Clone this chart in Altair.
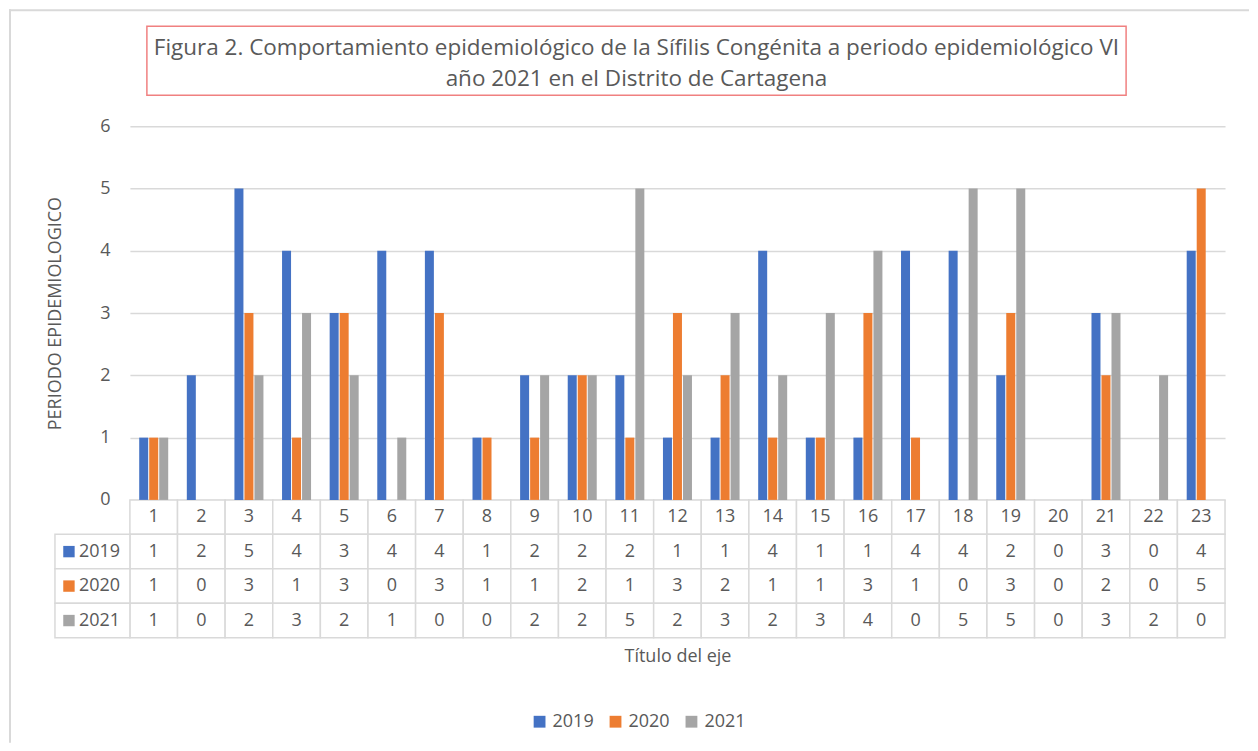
import altair as alt
import pandas as pd

periods = [str(i) for i in range(1, 24)]
years = ["2019", "2020", "2021"]
v2019 = [1, 2, 5, 4, 3, 4, 4, 1, 2, 2, 2, 1, 1, 4, 1, 1, 4, 4, 2, 0, 3, 0, 4]
v2020 = [1, 0, 3, 1, 3, 0, 3, 1, 1, 2, 1, 3, 2, 1, 1, 3, 1, 0, 3, 0, 2, 0, 5]
v2021 = [1, 0, 2, 3, 2, 1, 0, 0, 2, 2, 5, 2, 3, 2, 3, 4, 0, 5, 5, 0, 3, 2, 0]
colors = ["#4472c4", "#ed7d31", "#a5a5a5"]
title_text = ("Figura 2. Comportamiento epidemiológico de la Sífilis Congénita a periodo epidemiológico VI\n"
              "año 2021 en el Distrito de Cartagena")
y_title = "PERIODO EPIDEMIOLOGICO"
x_title = "Título del eje"

TXT = "#595959"
GRID = "#d9d9d9"
FONT = "Open Sans"
FS = 18

rows = []
for yr, vals in zip(years, [v2019, v2020, v2021]):
    for p, v in zip(periods, vals):
        rows.append({"periodo": p, "anio": yr, "valor": v, "fila": yr, "texto": str(v)})
df = pd.DataFrame(rows)
hdr = pd.DataFrame({"periodo": periods, "fila": ["h"] * 23, "texto": periods})
table_df = pd.concat([hdr, df[["periodo", "fila", "texto"]]], ignore_index=True)
leg_df = pd.DataFrame({"fila": years, "anio": years})

W, H = 1096, 374
row_scale = alt.Scale(domain=["h"] + years, range=[374, 512], paddingInner=0, paddingOuter=0)
x_scale = alt.Scale(domain=periods, paddingInner=0, paddingOuter=0)
color_scale = alt.Scale(domain=years, range=colors)
legend = alt.Legend(title=None, orient="none", direction="horizontal",
                    legendX=401, legendY=587, symbolType="square",
                    symbolSize=140, symbolStrokeWidth=0, labelFontSize=FS,
                    labelFont=FONT, labelColor=TXT, columnPadding=12,
                    labelOffset=4)

bars = alt.Chart(df).mark_bar().encode(
    x=alt.X("periodo:N", scale=x_scale, sort=periods,
            axis=alt.Axis(labels=False, ticks=False, domain=False, title=x_title,
                          titleY=157, titleBaseline="middle", titleFontSize=FS,
                          titleFont=FONT, titleColor=TXT, titleFontWeight="normal")),
    xOffset=alt.XOffset("anio:N", scale=alt.Scale(domain=years, paddingInner=0.1, paddingOuter=0.93)),
    y=alt.Y("valor:Q", scale=alt.Scale(domain=[0, 6]),
            axis=alt.Axis(values=[0, 1, 2, 3, 4, 5, 6], ticks=False, domain=False,
                          grid=True, gridColor=GRID, gridWidth=1.5,
                          labelFontSize=FS, labelFont=FONT, labelColor=TXT, labelPadding=20,
                          title=y_title, titleX=-74, titleY=187, titleAlign="center",
                          titleBaseline="middle", titleFontSize=FS, titleFont=FONT,
                          titleColor=TXT, titleFontWeight="normal")),
    color=alt.Color("anio:N", scale=color_scale, legend=legend),
)

cells = alt.Chart(table_df).mark_rect(fill="white", stroke=GRID, strokeWidth=1.5).encode(
    x=alt.X("periodo:N", scale=x_scale, sort=periods),
    y=alt.Y("fila:N", scale=row_scale, axis=None),
)
cell_text = alt.Chart(table_df).mark_text(fontSize=FS, font=FONT, color=TXT).encode(
    x=alt.X("periodo:N", scale=x_scale, sort=periods),
    y=alt.Y("fila:N", scale=row_scale, axis=None),
    text="texto:N",
)
leg_cells = alt.Chart(leg_df).mark_rect(fill="white", stroke=GRID, strokeWidth=1.5).encode(
    x=alt.value(-75), x2=alt.value(0),
    y=alt.Y("fila:N", scale=row_scale, axis=None),
)
leg_sq = alt.Chart(leg_df).mark_square(size=130, opacity=1).encode(
    x=alt.value(-61),
    y=alt.Y("fila:N", scale=row_scale, axis=None),
    color=alt.Color("anio:N", scale=color_scale, legend=legend),
)
leg_txt = alt.Chart(leg_df).mark_text(align="left", fontSize=FS, font=FONT, color=TXT).encode(
    x=alt.value(-51),
    y=alt.Y("fila:N", scale=row_scale, axis=None),
    text="anio:N",
)

tdf = pd.DataFrame({"t": [title_text]})
title_box = alt.Chart(tdf).mark_rect(fill="white", stroke="#f08080", strokeWidth=1.5).encode(
    x=alt.value(17), x2=alt.value(997), y=alt.value(-100), y2=alt.value(-31)
)
title_mark = alt.Chart(tdf).mark_text(align="center", baseline="middle", lineBreak="\n",
                                      lineHeight=31, fontSize=22.5, font=FONT, color=TXT).encode(
    x=alt.value(507), y=alt.value(-78), text="t:N"
)
frame_left = alt.Chart(tdf).mark_rule(color=GRID, strokeWidth=2).encode(
    x=alt.value(-120), y=alt.value(-117), y2=alt.value(617)
)
frame_top = alt.Chart(tdf).mark_rule(color=GRID, strokeWidth=2).encode(
    x=alt.value(-121), x2=alt.value(1120), y=alt.value(-116)
)

chart = alt.layer(
    frame_left, frame_top, title_box, title_mark,
    cells, cell_text, leg_cells, leg_sq, leg_txt, bars
).resolve_scale(y="independent").properties(
    width=W, height=H, padding=0, background="white"
).configure_view(stroke=None)

chart.save("out.html", embed_options={"renderer": "svg", "actions": False})
